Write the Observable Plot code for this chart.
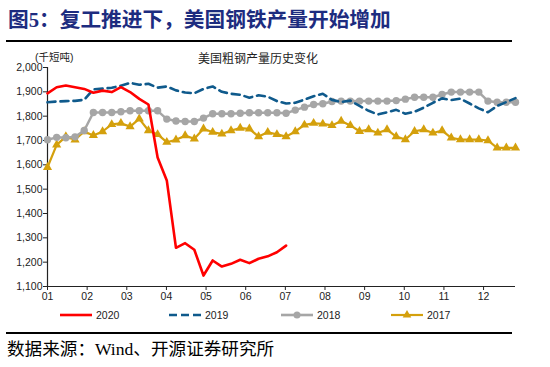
<!DOCTYPE html>
<html><head><meta charset="utf-8">
<script src="https://cdn.jsdelivr.net/npm/d3@7"></script>
<script src="https://cdn.jsdelivr.net/npm/@observablehq/plot@0.6"></script>
<style>
html,body{margin:0;padding:0;background:#fff}
body{width:550px;height:367px;position:relative;overflow:hidden;font-family:"Liberation Sans",Arial,sans-serif}
#title{position:absolute;left:8px;top:10px;font-family:"Liberation Serif","Noto Sans CJK SC",serif;font-weight:bold;font-size:20.7px;line-height:1;color:#1d2c7f;white-space:nowrap}
.rule{position:absolute;left:6px;width:506px;height:1.6px;background:#000}
#unit{position:absolute;left:35px;top:52px;font-family:"Liberation Sans","Noto Sans CJK SC";font-size:10.5px;line-height:1;color:#222;white-space:nowrap}
#sub{position:absolute;left:0;width:516px;text-align:center;top:52px;font-family:"Noto Sans CJK SC";font-size:12px;line-height:1;color:#222;white-space:nowrap}
#chart{position:absolute;left:0;top:50px}
#legend{position:absolute;left:0;top:305px}
#source{position:absolute;left:7px;top:341px;font-family:"Liberation Serif","Noto Sans CJK SC",serif;font-size:17.6px;line-height:1;color:#000;white-space:nowrap}
</style>
</head>
<body>
<div id="title">图5：复工推进下，美国钢铁产量开始增加</div>
<div class="rule" style="top:40px"></div>
<div id="unit">(千短吨)</div>
<div id="sub">美国粗钢产量历史变化</div>
<div id="chart"></div>
<div id="legend"></div>
<div class="rule" style="top:332px"></div>
<div id="source">数据来源：Wind、开源证券研究所</div>
<script>
// ---- data (weekly, thousand short tons) ----
const years = ["2020", "2019", "2018", "2017"];
const monthLabels = ["01","02","03","04","05","06","07","08","09","10","11","12"];
const yTicks = [1100,1200,1300,1400,1500,1600,1700,1800,1900,2000];

const v2020 = [1894,1919,1926,1919,1912,1896,1905,1899,1919,1899,1871,1848,1630,1536,1259,1278,1251,1145,1207,1182,1193,1210,1196,1214,1224,1241,1268];

const v2019 = [1857,1860,1862,1863,1867,1910,1913,1917,1925,1937,1929,1933,1917,1922,1906,1897,1894,1912,1922,1900,1892,1888,1876,1886,1880,1862,1852,1855,1868,1882,1892,1867,1858,1864,1842,1822,1807,1816,1826,1810,1818,1835,1855,1873,1866,1872,1852,1832,1816,1842,1858,1874];

const v2018 = [1703,1713,1711,1715,1741,1815,1815,1815,1818,1822,1822,1822,1822,1788,1780,1778,1778,1792,1810,1810,1810,1812,1814,1814,1814,1814,1812,1825,1837,1848,1851,1860,1862,1862,1862,1862,1862,1862,1864,1870,1878,1878,1878,1889,1899,1899,1899,1899,1862,1857,1857,1857];

const v2017 = [1590,1682,1716,1703,1737,1721,1737,1766,1771,1757,1789,1741,1725,1693,1703,1720,1707,1748,1734,1727,1741,1751,1748,1716,1734,1725,1716,1737,1764,1771,1768,1762,1780,1762,1738,1745,1731,1745,1716,1704,1738,1745,1731,1741,1711,1704,1704,1704,1700,1670,1670,1670];

const colors = {"2020":"#ff0000","2019":"#0f5a8c","2018":"#a6a6a6","2017":"#d4a00c"};

const rows = (vals) => vals.map((v, i) => ({week: i + 1, value: v}));
const d2020 = rows(v2020), d2019 = rows(v2019), d2018 = rows(v2018), d2017 = rows(v2017);
const monthTicks = monthLabels.map((_, i) => 1 + i * 4.32);

const chart = Plot.plot({
  width: 550, height: 260,
  marginLeft: 47, marginRight: 35, marginTop: 17, marginBottom: 24,
  style: {fontFamily: "Liberation Sans, Arial, sans-serif", fontSize: "10.5px", color: "#222", background: "transparent", overflow: "visible"},
  x: {domain: [1, 52]},
  y: {domain: [1100, 2000]},
  marks: [
    Plot.axisY({ticks: yTicks, tickSize: 4, tickPadding: 1, tickFormat: d3.format(","), stroke: "#222", fill: "#222", label: null}),
    Plot.axisX({ticks: monthTicks, tickSize: 4, tickPadding: 2, tickFormat: (d, i) => monthLabels[i], stroke: "#222", fill: "#222", label: null}),
    Plot.ruleX([1], {stroke: "#222", strokeWidth: 1.2}),
    Plot.ruleY([1100], {stroke: "#222", strokeWidth: 1.2}),
    Plot.line(d2017, {x: "week", y: "value", stroke: colors["2017"], strokeWidth: 2.2}),
    Plot.dot(d2017, {x: "week", y: "value", symbol: "triangle", r: 3.4, fill: colors["2017"], stroke: "none"}),
    Plot.line(d2018, {x: "week", y: "value", stroke: colors["2018"], strokeWidth: 2.5}),
    Plot.dot(d2018, {x: "week", y: "value", r: 3.7, fill: colors["2018"], stroke: "none"}),
    Plot.line(d2019, {x: "week", y: "value", stroke: colors["2019"], strokeWidth: 2.6, strokeDasharray: "8,5"}),
    Plot.line(d2020, {x: "week", y: "value", stroke: colors["2020"], strokeWidth: 2.6})
  ]
});
document.getElementById("chart").appendChild(chart);

// ---- legend ----
const legendPos = [60, 169, 281, 391];
const svg = d3.select("#legend").append("svg").attr("width", 550).attr("height", 20);
years.forEach((yr, i) => {
  const x0 = legendPos[i], x1 = x0 + 32, cy = 10;
  const g = svg.append("g");
  g.append("line").attr("x1", x0).attr("x2", x1).attr("y1", cy).attr("y2", cy)
    .attr("stroke", colors[yr]).attr("stroke-width", yr === "2017" ? 2.2 : 2.6)
    .attr("stroke-dasharray", yr === "2019" ? "8,4" : null);
  if (yr === "2018") g.append("circle").attr("cx", (x0 + x1) / 2).attr("cy", cy).attr("r", 3.5).attr("fill", colors[yr]);
  if (yr === "2017") g.append("path").attr("d", d3.symbol(d3.symbolTriangle, 32)()).attr("transform", `translate(${(x0 + x1) / 2},${cy})`).attr("fill", colors[yr]);
  g.append("text").attr("x", x1 + 4).attr("y", cy).attr("dy", "0.35em")
    .attr("font-family", "Liberation Sans, Arial, sans-serif").attr("font-size", 10.5).attr("fill", "#222").text(yr);
});
</script>
</body></html>
